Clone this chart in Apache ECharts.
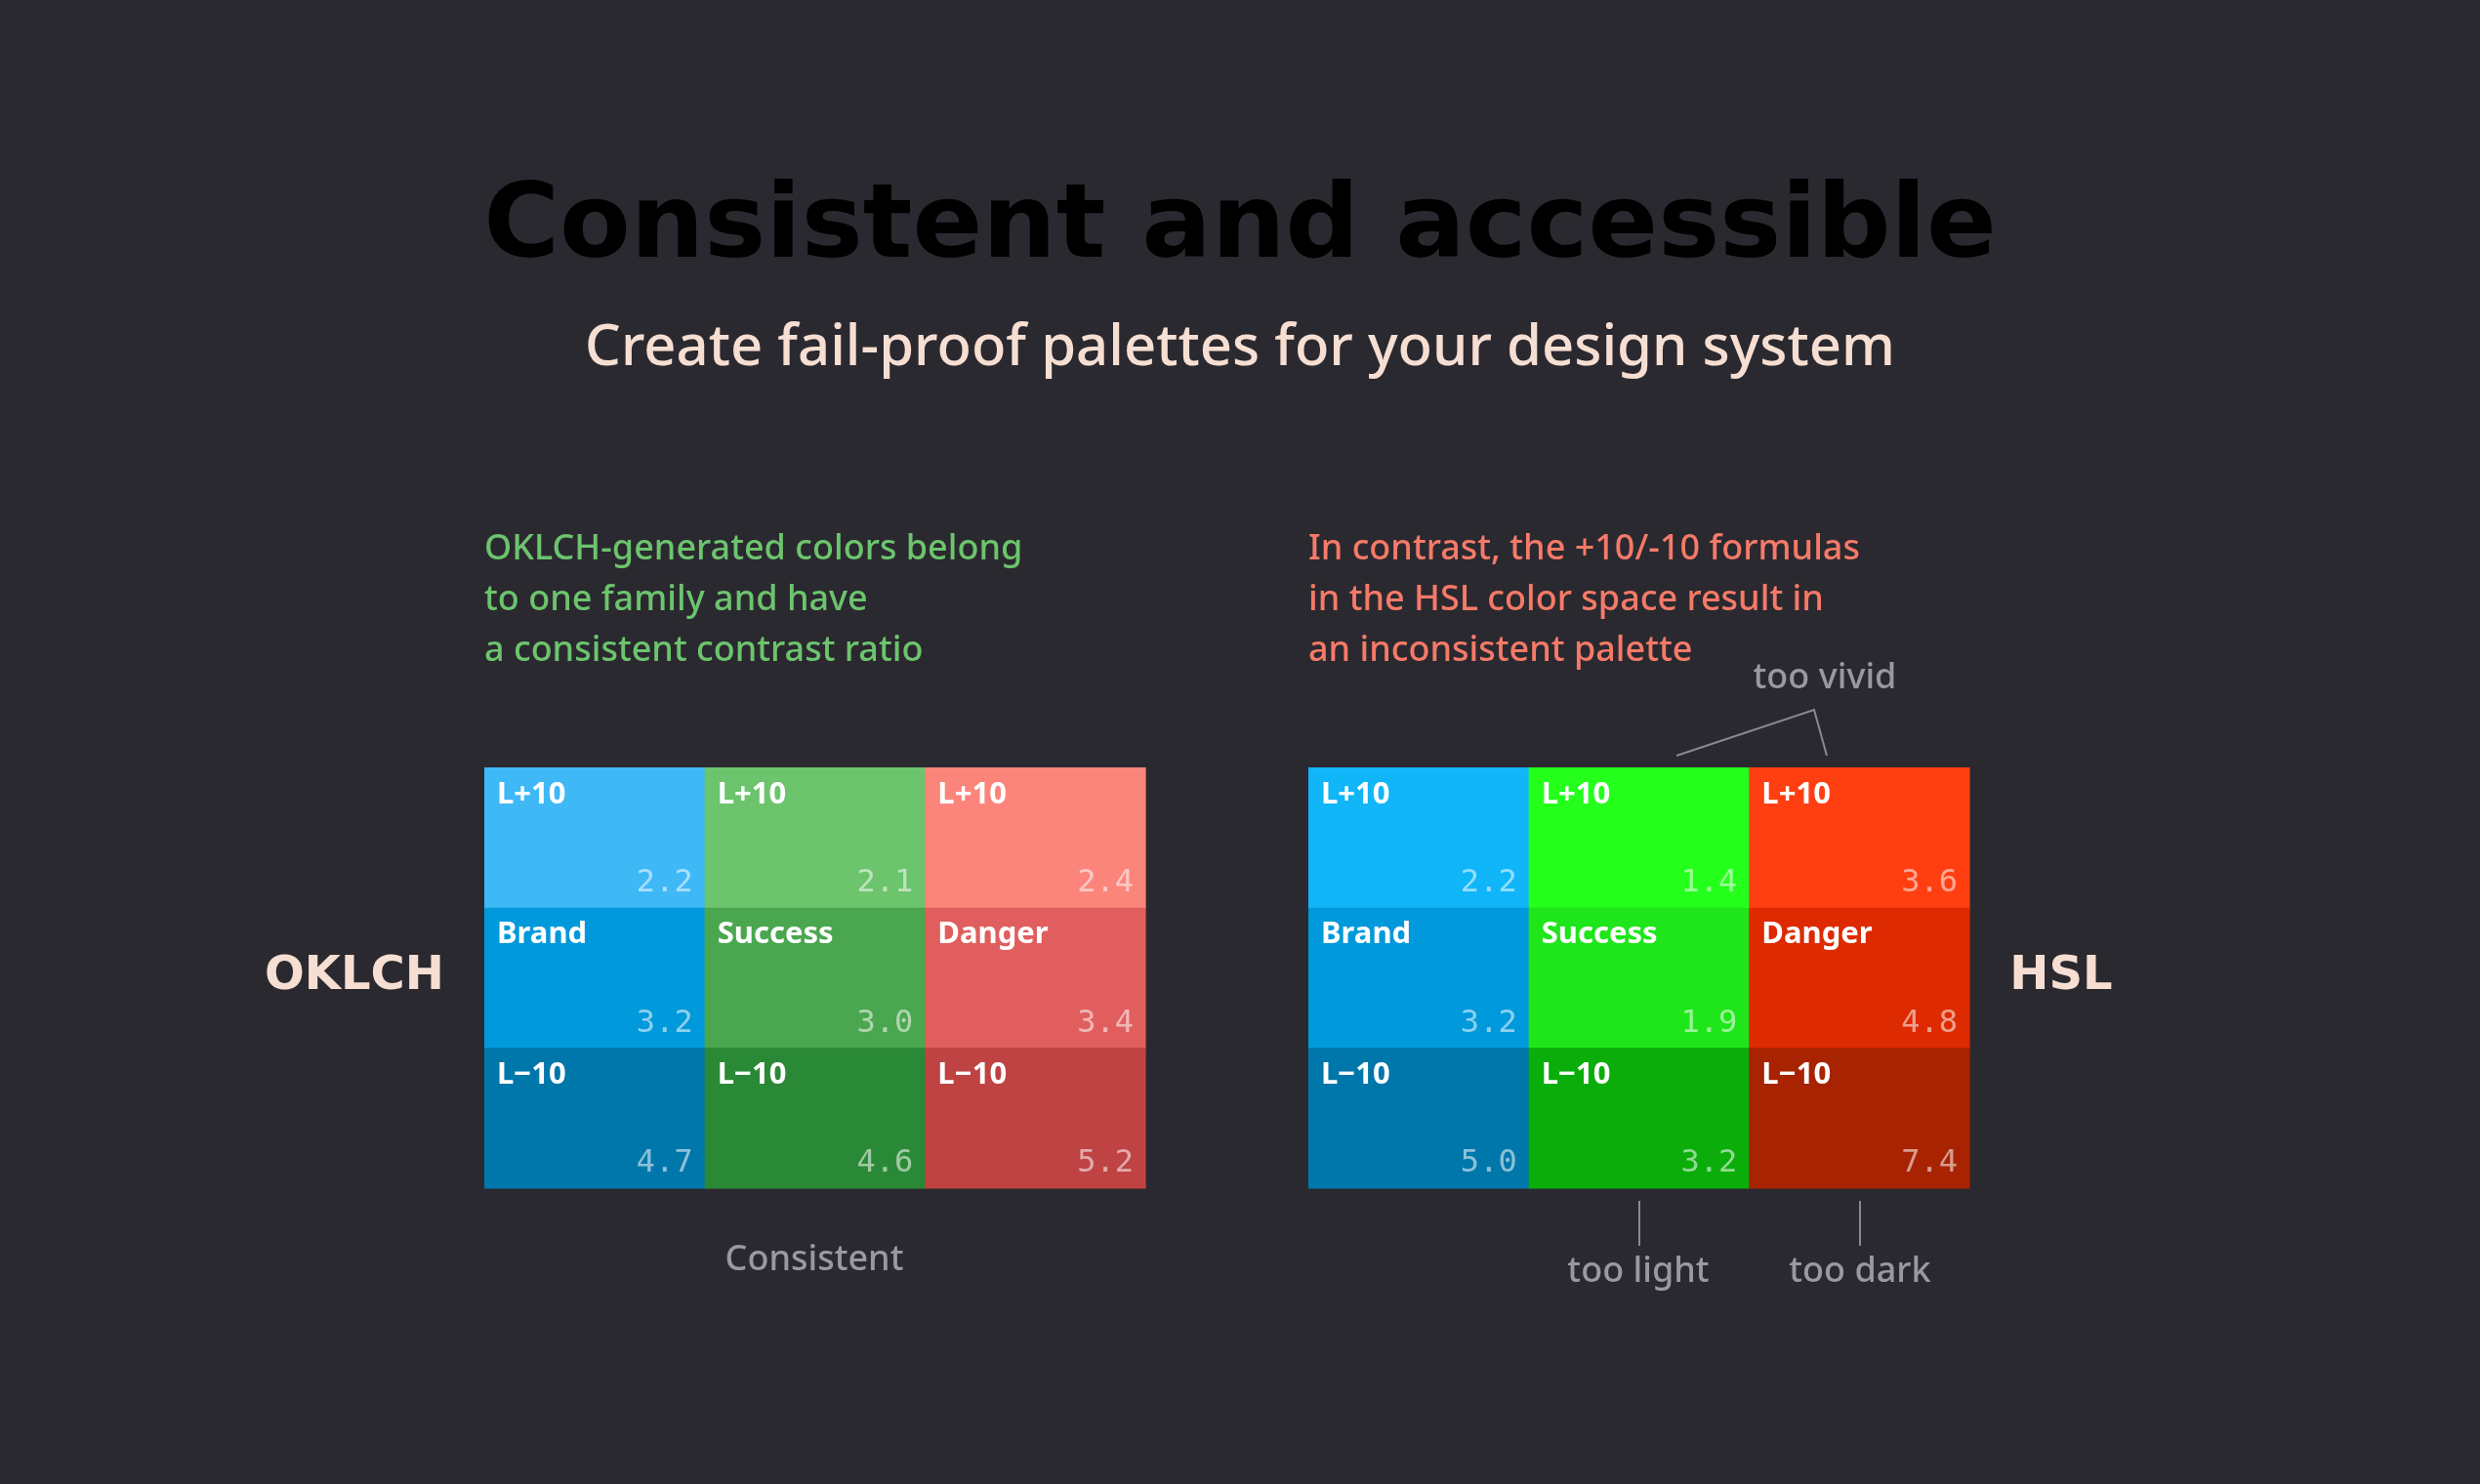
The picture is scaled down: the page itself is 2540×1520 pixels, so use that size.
<!DOCTYPE html>
<html><head><meta charset="utf-8">
<script src="https://cdn.jsdelivr.net/npm/echarts@6/dist/echarts.min.js"></script>
<style>html,body{margin:0;background:#2b2930;}#c{width:2540px;height:1520px;}</style>
</head><body><div id="c"></div>
<script>
const leftNames = [['L+10','L+10','L+10'],['Brand','Success','Danger'],['L\u221210','L\u221210','L\u221210']];
const leftValues = [[2.2,2.1,2.4],[3.2,3.0,3.4],[4.7,4.6,5.2]];
const leftColors = [['#3fb8f6','#6cc46d','#fb857b'],['#0099db','#4ba74f','#e05f5e'],['#0077aa','#2a8936','#bf4343']];
const rightValues = [[2.2,1.4,3.6],[3.2,1.9,4.8],[5.0,3.2,7.4]];
const rightColors = [['#10b6f8','#24ff1c','#ff3f12'],['#0099db','#1ee61a','#dd2a00'],['#0077aa','#0aad0a','#a82302']];

function buildData(names, values, colors){
  const d=[];
  for(let r=0;r<3;r++)for(let c=0;c<3;c++)
    d.push({value:[c,2-r,values[r][c]], name:names[r][c], color:colors[r][c]});
  return d;
}
function series(idx, names, values, colors){
  const data=buildData(names,values,colors);
  return {type:'custom',xAxisIndex:idx,yAxisIndex:idx,data:data.map(o=>({value:o.value,itemStyle:{color:o.color}})),
    renderItem:function(params,api){
      const o=data[params.dataIndex];
      const p0=api.coord([api.value(0),api.value(1)]); const sz=api.size([1,1]);
      const x=p0[0]-sz[0]/2, y=p0[1]-sz[1]/2;
      return {type:'group',children:[
        {type:'rect',shape:{x:x,y:y,width:sz[0]+0.6,height:sz[1]+0.6},style:{fill:o.color}},
        {type:'text',style:{x:x+13,y:y+28,text:o.name,fill:'#fff',font:'bold 31px "Noto Sans"',verticalAlign:'middle'}},
        {type:'text',style:{x:x+sz[0]-12,y:y+sz[1]-25,text:api.value(2).toFixed(1),fill:'rgba(255,255,255,0.55)',font:'32px "DejaVu Sans Mono"',align:'right',verticalAlign:'middle'}}
      ]};
    }};
}
const gridL={left:496,top:786,width:677,height:431};
const gridR={left:1340,top:786,width:677,height:431};
const ax=(i)=>({type:'value',gridIndex:i,min:-0.5,max:2.5,show:false});
const grayLine={stroke:'#8a8890',lineWidth:2};
const titleGrad=new echarts.graphic.LinearGradient(480,0,2070,0,[{offset:0,color:'#e6b9f2'},{offset:0.5,color:'#c8c6f4'},{offset:1,color:'#9fe3fa'}],true);
const chart=echarts.init(document.getElementById('c'));
chart.setOption({
  backgroundColor:'#2b2930',
  grid:[gridL,gridR],
  xAxis:[ax(0),ax(1)], yAxis:[ax(0),ax(1)],
  series:[series(0,leftNames,leftValues,leftColors),series(1,leftNames,rightValues,rightColors)],
  graphic:[
    {type:'text',x:1270,y:235,style:{text:'Consistent and accessible',font:'bold 106px "DejaVu Sans"',align:'center',verticalAlign:'middle',fill:titleGrad}},
    {type:'text',x:1270,y:357,style:{text:'Create fail-proof palettes for your design system',font:'500 58px "Noto Sans"',align:'center',verticalAlign:'middle',fill:'#f6dfd2'}},
    {type:'text',left:496,top:537,style:{text:'OKLCH-generated colors belong\nto one family and have\na consistent contrast ratio',font:'500 36px "Noto Sans"',lineHeight:52,fill:'#6cc46d'}},
    {type:'text',left:1340,top:537,style:{text:'In contrast, the +10/-10 formulas\nin the HSL color space result in\nan inconsistent palette',font:'500 36px "Noto Sans"',lineHeight:52,fill:'#f57a68'}},
    {type:'text',x:363,y:1001,style:{text:'OKLCH',font:'bold 48px "DejaVu Sans"',fill:'#f6dfd2',align:'center',verticalAlign:'middle'}},
    {type:'text',x:2111,y:1001,style:{text:'HSL',font:'bold 48px "DejaVu Sans"',fill:'#f6dfd2',align:'center',verticalAlign:'middle'}},
    {type:'text',x:834,y:1291,style:{text:'Consistent',font:'500 36px "Noto Sans"',fill:'#9a98a0',align:'center',verticalAlign:'middle'}},
    {type:'text',x:1869,y:695,style:{text:'too vivid',font:'500 36px "Noto Sans"',fill:'#9a98a0',align:'center',verticalAlign:'middle'}},
    {type:'text',x:1678,y:1303,style:{text:'too light',font:'500 36px "Noto Sans"',fill:'#9a98a0',align:'center',verticalAlign:'middle'}},
    {type:'text',x:1905,y:1303,style:{text:'too dark',font:'500 36px "Noto Sans"',fill:'#9a98a0',align:'center',verticalAlign:'middle'}},
    {type:'polyline',shape:{points:[[1717,774],[1858,727],[1871,774]]},style:Object.assign({fill:null},grayLine)},
    {type:'line',shape:{x1:1679,y1:1230,x2:1679,y2:1276},style:grayLine},
    {type:'line',shape:{x1:1905,y1:1230,x2:1905,y2:1276},style:grayLine}
  ]
});
</script></body></html>
